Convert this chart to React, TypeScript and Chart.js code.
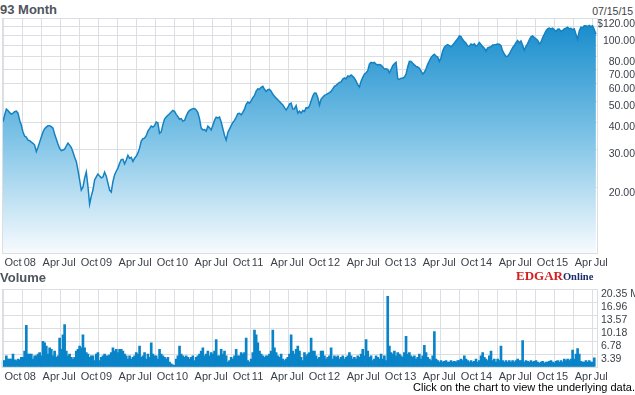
import React, { useEffect, useRef } from "react";
import { Chart, registerables } from "chart.js";

Chart.register(...registerables);

// ---- data -------------------------------------------------------------
const START_DATE = "2007-10-01";
const SAMPLE_STEP_DAYS = 8;

// closing price, one reading every 8 days from START_DATE
const priceClose: number[] = [
  40.1, 43.1, 45.9, 45.2, 44.2, 43.5, 44.0, 44.7, 44.9, 44.0,
  40.8, 38.7, 36.0, 34.4, 34.1, 33.0, 32.8, 32.3, 31.9, 31.3,
  29.2, 30.6, 32.3, 34.1, 36.0, 37.3, 37.9, 38.5, 38.5, 38.1,
  37.5, 35.1, 33.4, 31.7, 30.2, 29.5, 29.7, 30.0, 31.0, 32.0,
  31.3, 30.5, 29.1, 27.5, 26.3, 24.0, 21.6, 19.4, 20.0, 22.0,
  23.5, 20.2, 16.7, 18.2, 19.4, 21.6, 22.3, 23.0, 22.5, 22.1,
  22.3, 23.5, 22.5, 20.9, 19.4, 19.0, 21.2, 22.8, 23.7, 24.5,
  25.8, 26.8, 26.9, 25.6, 26.7, 28.1, 27.2, 27.5, 26.3, 27.2,
  27.8, 28.8, 30.3, 32.7, 33.5, 33.7, 34.6, 36.3, 37.3,
  38.3, 37.9, 38.5, 40.0, 39.6, 35.5, 36.0, 38.9, 41.3, 42.2,
  43.0, 43.7, 44.5, 45.3, 44.8, 43.4, 42.4, 41.2, 41.5, 40.4,
  40.7, 42.6, 44.3, 45.3, 45.7, 46.1, 46.2, 45.5, 44.2, 41.4,
  37.5, 36.8, 36.9, 36.3, 38.3, 37.6, 36.8, 38.7, 40.7, 42.1,
  41.8, 42.2, 40.0, 37.3, 34.7, 33.0, 35.8, 37.1, 38.5, 39.8,
  40.7, 42.1, 43.7, 43.9, 43.2, 44.3, 45.9, 48.3, 49.5, 48.9,
  50.1, 51.9, 53.1, 55.6, 57.0, 56.7, 57.9, 58.5, 56.7, 55.4,
  56.5, 56.7, 55.6, 53.7, 52.6, 51.6, 50.7, 49.8, 48.9, 48.0,
  46.6, 45.5, 46.7, 48.4, 48.9, 46.0, 46.1, 47.6, 44.0,
  44.9, 44.0, 45.2, 44.8, 46.6, 46.4, 47.5, 50.0, 52.7, 54.5,
  54.4, 52.0, 47.9, 51.1, 52.1, 53.1, 53.5, 54.1, 54.7, 55.4,
  56.9, 58.5, 59.1, 60.1, 60.9, 61.3, 63.2, 64.0, 63.3, 65.3,
  64.9, 66.0, 65.0, 63.8, 61.8, 59.5, 58.0, 61.8, 64.3, 66.6,
  67.6, 69.1, 74.0, 75.4, 75.0, 75.4, 74.0, 73.5, 73.8, 73.3,
  71.9, 70.2, 70.5, 70.1, 67.6, 70.0, 72.8, 74.4, 75.6, 63.4,
  63.0, 63.8, 63.8, 64.5, 66.6, 71.9, 76.4, 76.2, 74.8, 73.5,
  72.3, 71.9, 70.9, 68.7, 66.7, 67.9, 70.5, 73.9, 76.7, 79.4,
  81.2, 82.2, 80.6, 79.8, 76.2, 79.3, 85.2, 88.7, 90.3, 91.1,
  90.2, 89.1, 90.8, 92.8, 95.0, 97.0, 100.1, 99.4, 96.2, 94.1,
  92.5, 89.6, 89.7, 91.8, 90.9, 91.9, 89.6, 90.8, 93.3, 91.3,
  89.2, 87.7, 85.0, 88.0, 88.6, 89.1, 90.9, 91.0, 91.3, 91.8,
  91.6, 90.1, 85.3, 82.5, 80.4, 80.6, 82.5, 85.3, 88.3, 90.3,
  93.1, 95.2, 93.0, 94.8, 90.6, 85.9, 89.6, 92.1, 95.8, 99.0,
  100.0, 98.3, 97.0, 95.5, 92.0, 93.7, 98.0, 101.8, 105.5, 107.8,
  108.7, 107.7, 108.5, 106.8, 104.7, 107.4, 107.5, 104.9, 105.9, 107.8,
  108.7, 109.8, 108.0, 108.5, 106.8, 107.8, 101.8, 96.5, 105.3, 109.7,
  109.1, 111.4, 111.3, 110.3, 111.7, 110.4, 111.4, 107.0, 101.8,
];

// volume in millions of shares, same 8-day steps
const volumeMillions: number[] = [
  1.7, 1.7, 2.9, 2.1, 2.1, 2.1, 3.4, 1.9, 1.7, 2.1,
  1.9, 2.5, 2.5, 4.2, 10.9, 3.4, 3.4, 3.4, 2.1, 2.9,
  2.9, 3.4, 3.8, 2.9, 6.7, 6.3, 5.5, 3.4, 5.05, 4.6,
  2.9, 4.2, 2.5, 2.9, 7.6, 4.6, 8.4, 11.1, 4.2, 2.9,
  3.4, 2.5, 2.1, 2.5, 4.2, 4.6, 5.5, 5.05, 8.4, 5.05,
  3.8, 3.4, 2.5, 2.9, 2.9, 1.7, 3.4, 3.8, 1.7, 2.5,
  2.9, 3.4, 2.9, 2.9, 3.2, 3.8, 5.05, 4.2, 4.6, 3.8,
  4.6, 4.6, 4.2, 3.4, 2.9, 2.1, 2.9, 2.1, 2.5, 2.9,
  3.8, 3.4, 5.5, 2.5, 2.9, 3.8, 2.1, 3.4, 2.5, 6.3,
  3.4, 2.9, 2.9, 2.1, 4.6, 3.4, 2.9, 2.5, 2.1, 2.5,
  1.3, 0.84, 0.6, 0.42, 2.1, 2.9, 5.5, 3.4, 2.9, 2.5,
  2.9, 2.5, 2.1, 2.5, 2.9, 1.7, 2.5, 2.9, 3.4, 4.2,
  5.05, 2.9, 3.4, 4.2, 2.9, 3.8, 3.4, 4.2, 7.2, 2.9,
  2.9, 4.6, 3.4, 4.2, 2.9, 1.3, 1.7, 2.5, 2.1, 2.9,
  4.6, 2.9, 2.9, 3.8, 3.4, 3.8, 7.6, 1.7, 1.3, 2.1,
  3.8, 9.7, 8.4, 6.3, 4.2, 3.4, 2.9, 2.5, 2.9, 2.9,
  3.4, 4.2, 9.7, 5.05, 3.8, 2.9, 2.5, 3.4, 2.1, 1.7,
  2.1, 2.5, 3.4, 8.4, 4.2, 3.4, 4.6, 5.5, 4.2,
  2.5, 1.7, 3.8, 2.9, 3.4, 3.8, 7.6, 4.2, 4.2, 2.9,
  2.1, 2.5, 4.2, 4.2, 2.9, 2.1, 2.5, 2.9, 5.05, 2.1,
  2.9, 2.5, 2.9, 2.1, 2.5, 2.9, 2.1, 2.5, 2.9, 3.8,
  2.9, 2.1, 2.5, 2.1, 2.9, 2.5, 3.4, 4.6, 2.9, 7.2,
  4.2, 2.5, 2.9, 1.7, 2.1, 2.9, 2.5, 2.1, 3.4, 2.1,
  2.9, 1.7, 18.5, 5.5, 3.8, 3.4, 4.2, 2.9, 3.8, 3.4,
  2.9, 2.5, 3.8, 8.0, 3.4, 3.8, 2.9, 2.5, 2.9, 2.1,
  2.5, 3.4, 2.1, 2.9, 5.7, 3.8, 2.5, 2.1, 1.7, 2.9,
  9.3, 2.1, 1.7, 1.3, 1.7, 1.3, 1.5, 1.7, 1.3, 1.3,
  1.7, 1.3, 1.5, 1.3, 1.7, 1.7, 2.1, 1.7, 2.9, 2.1,
  1.7, 1.3, 1.7, 1.3, 1.5, 2.1, 1.3, 1.7, 2.9, 3.8,
  2.5, 2.1, 1.7, 2.9, 4.2, 1.7, 2.1, 1.3, 2.1, 1.7,
  5.5, 1.7, 1.3, 1.7, 1.3, 1.7, 1.3, 1.7, 1.3, 1.7,
  2.1, 1.7, 1.7, 6.9, 1.3, 1.7, 1.5, 1.3, 1.7, 1.3,
  1.5, 1.7, 1.3, 1.0, 1.3, 1.5, 1.0, 1.3, 1.3, 1.5,
  1.7, 1.3, 1.0, 1.5, 1.7, 1.3, 1.7, 1.3, 2.1, 1.7,
  2.1, 1.7, 2.1, 4.4, 2.1, 3.4, 4.8, 3.4, 1.5, 1.3,
  1.3, 1.7, 1.3, 1.7, 1.3, 1.3, 2.4,
];

const quarterStarts: string[] = [
  "2007-10-01", "2008-01-01", "2008-04-01", "2008-07-01",
  "2008-10-01", "2009-01-01", "2009-04-01", "2009-07-01",
  "2009-10-01", "2010-01-01", "2010-04-01", "2010-07-01",
  "2010-10-01", "2011-01-01", "2011-04-01", "2011-07-01",
  "2011-10-01", "2012-01-01", "2012-04-01", "2012-07-01",
  "2012-10-01", "2013-01-01", "2013-04-01", "2013-07-01",
  "2013-10-01", "2014-01-01", "2014-04-01", "2014-07-01",
  "2014-10-01", "2015-01-01", "2015-04-01", "2015-07-01",
];
const quarterLabels: string[] = [
  "Oct", "08", "Apr", "Jul", "Oct", "09", "Apr", "Jul",
  "Oct", "10", "Apr", "Jul", "Oct", "11", "Apr", "Jul",
  "Oct", "12", "Apr", "Jul", "Oct", "13", "Apr", "Jul",
  "Oct", "14", "Apr", "Jul", "Oct", "15", "Apr", "Jul",
];

const priceTickValues = [120, 110, 100, 90, 80, 70, 60, 50, 40, 30, 20];
const priceTickLabels = ["$120.00", "", "100.00", "", "80.00", "70.00", "60.00", "50.00", "40.00", "30.00", "20.00"];
const volumeTickValues = [0, 3.39, 6.78, 10.18, 13.57, 16.96, 20.35];
const volumeTickLabels = ["", "3.39", "6.78", "10.18", "13.57", "16.96", "20.35 M"];

// ---- helpers ----------------------------------------------------------
const DAY_MS = 86400000;
const dayOf = (d: string) => (Date.parse(d) - Date.parse(START_DATE)) / DAY_MS;
const tickDays = quarterStarts.map(dayOf);

const GRID = "#dcdee2";
const TEXT = "#3b3f47";
const AXIS_FONT = '"Liberation Sans Narrow", "Arial Narrow", "Liberation Sans", Arial, sans-serif';
const X_MIN = -7;
const X_MAX = 2858;

const framePlugin = {
  id: "frame",
  afterDatasetsDraw(chart: any) {
    const { ctx, chartArea: a } = chart;
    ctx.save();
    ctx.strokeStyle = GRID;
    ctx.lineWidth = 1;
    ctx.strokeRect(
      Math.round(a.left) + 0.5,
      Math.round(a.top) + 0.5,
      Math.round(a.right - a.left) - 1,
      Math.round(a.bottom - a.top)
    );
    ctx.restore();
  },
};

function makeX(height: number) {
  return {
    type: "linear",
    min: X_MIN,
    max: X_MAX,
    offset: false,
    afterBuildTicks: (s: any) => {
      s.ticks = tickDays.map((v) => ({ value: v }));
    },
    afterFit: (s: any) => {
      s.height = height;
    },
    grid: { color: GRID, lineWidth: 1, drawTicks: false, offset: false },
    border: { display: false },
    ticks: {
      autoSkip: false,
      maxRotation: 0,
      minRotation: 0,
      align: "start",
      labelOffset: 1.5,
      padding: 3,
      color: TEXT,
      font: { family: AXIS_FONT, size: 11 },
      callback: (_v: any, i: number) => quarterLabels[i],
    },
  };
}

const basePlugins = {
  legend: { display: false },
  tooltip: { enabled: false },
  title: { display: false },
};

export default function App() {
  const priceRef = useRef<HTMLCanvasElement>(null);
  const volRef = useRef<HTMLCanvasElement>(null);

  useEffect(() => {
    const priceChart = new Chart(priceRef.current as HTMLCanvasElement, {
      type: "line",
      data: {
        datasets: [
          {
            data: priceClose.map((y, i) => ({ x: i * SAMPLE_STEP_DAYS, y })),
            borderColor: "#1482c2",
            borderWidth: 1.5,
            pointRadius: 0,
            tension: 0,
            fill: "start",
            backgroundColor: (c: any) => {
              const a = c.chart.chartArea;
              if (!a) return "#5fb4e0";
              const g = c.chart.ctx.createLinearGradient(0, a.top, 0, a.bottom);
              g.addColorStop(0, "#138acb");
              g.addColorStop(0.5, "#7cc2e6");
              g.addColorStop(1, "#f7fbfe");
              return g;
            },
          },
        ],
      },
      options: {
        responsive: false,
        animation: false,
        devicePixelRatio: 1,
        events: [],
        layout: { padding: { top: 18, left: 1, right: 0, bottom: 0 } },
        plugins: basePlugins as any,
        scales: {
          x: makeX(19) as any,
          y: {
            type: "logarithmic",
            position: "right",
            min: 9.93,
            max: 121,
            afterBuildTicks: (s: any) => {
              s.ticks = priceTickValues.map((v) => ({ value: v }));
            },
            afterFit: (s: any) => {
              s.width = 37;
            },
            grid: { color: GRID, lineWidth: 1, drawTicks: false },
            border: { display: false },
            ticks: {
              autoSkip: false,
              crossAlign: "far",
              padding: 3,
              labelOffset: 5.5,
              color: TEXT,
              font: { family: AXIS_FONT, size: 10.5 },
              callback: (_v: any, i: number) => priceTickLabels[i],
            },
          } as any,
        },
      },
      plugins: [framePlugin],
    });

    const volChart = new Chart(volRef.current as HTMLCanvasElement, {
      type: "bar",
      data: {
        datasets: [
          {
            data: volumeMillions.map((y, i) => ({ x: i * SAMPLE_STEP_DAYS, y })),
            backgroundColor: "#0a84c8",
            borderWidth: 0,
            barThickness: 2,
          } as any,
        ],
      },
      options: {
        responsive: false,
        animation: false,
        devicePixelRatio: 1,
        events: [],
        layout: { padding: { top: 7, left: 1, right: 0, bottom: 0 } },
        plugins: basePlugins as any,
        scales: {
          x: makeX(15) as any,
          y: {
            type: "linear",
            position: "right",
            min: 0,
            max: 20.35,
            afterBuildTicks: (s: any) => {
              s.ticks = volumeTickValues.map((v) => ({ value: v }));
            },
            afterFit: (s: any) => {
              s.width = 37;
            },
            grid: { color: GRID, lineWidth: 1, drawTicks: false },
            border: { display: false },
            ticks: {
              autoSkip: false,
              crossAlign: "near",
              padding: 3,
              labelOffset: 5,
              color: TEXT,
              font: { family: AXIS_FONT, size: 10.5 },
              callback: (_v: any, i: number) => volumeTickLabels[i],
            },
          } as any,
        },
      },
      plugins: [framePlugin],
    });

    return () => {
      priceChart.destroy();
      volChart.destroy();
    };
  }, []);

  const sans = '"Liberation Sans", Arial, sans-serif';
  const abs = (s: React.CSSProperties): React.CSSProperties => ({
    position: "absolute",
    whiteSpace: "nowrap",
    lineHeight: 1,
    ...s,
  });

  return (
    <div
      style={{
        position: "fixed",
        left: 0,
        top: 0,
        width: 635,
        height: 395,
        background: "#ffffff",
        overflow: "hidden",
        fontFamily: sans,
      }}
    >
      <div style={abs({ left: 0, top: 3, fontSize: 13, fontWeight: "bold", color: "#4f545d" })}>93 Month</div>
      <div style={abs({ right: 2, top: 6, fontSize: 10.5, color: TEXT })}>07/15/15</div>
      <canvas
        ref={priceRef}
        width={635}
        height={272}
        style={{ position: "absolute", left: 0, top: 0, width: 635, height: 272 }}
      />
      <div style={abs({ left: 0, top: 271, fontSize: 13, fontWeight: "bold", color: "#4f545d" })}>Volume</div>
      <div
        style={abs({
          left: 516,
          top: 268.5,
          fontSize: 13,
          fontWeight: "bold",
          fontFamily: '"Liberation Serif", "Times New Roman", serif',
        })}
      >
        <span style={{ color: "#d3201f", fontSize: 13 }}>EDGAR</span>
        <span style={{ color: "#1c2c6a", fontSize: 10.5 }}>Online</span>
      </div>
      <canvas
        ref={volRef}
        width={635}
        height={102}
        style={{ position: "absolute", left: 0, top: 280, width: 635, height: 102 }}
      />
      <div style={abs({ left: 413, top: 382, fontSize: 11, color: "#000000" })}>
        Click on the chart to view the underlying data.
      </div>
    </div>
  );
}
